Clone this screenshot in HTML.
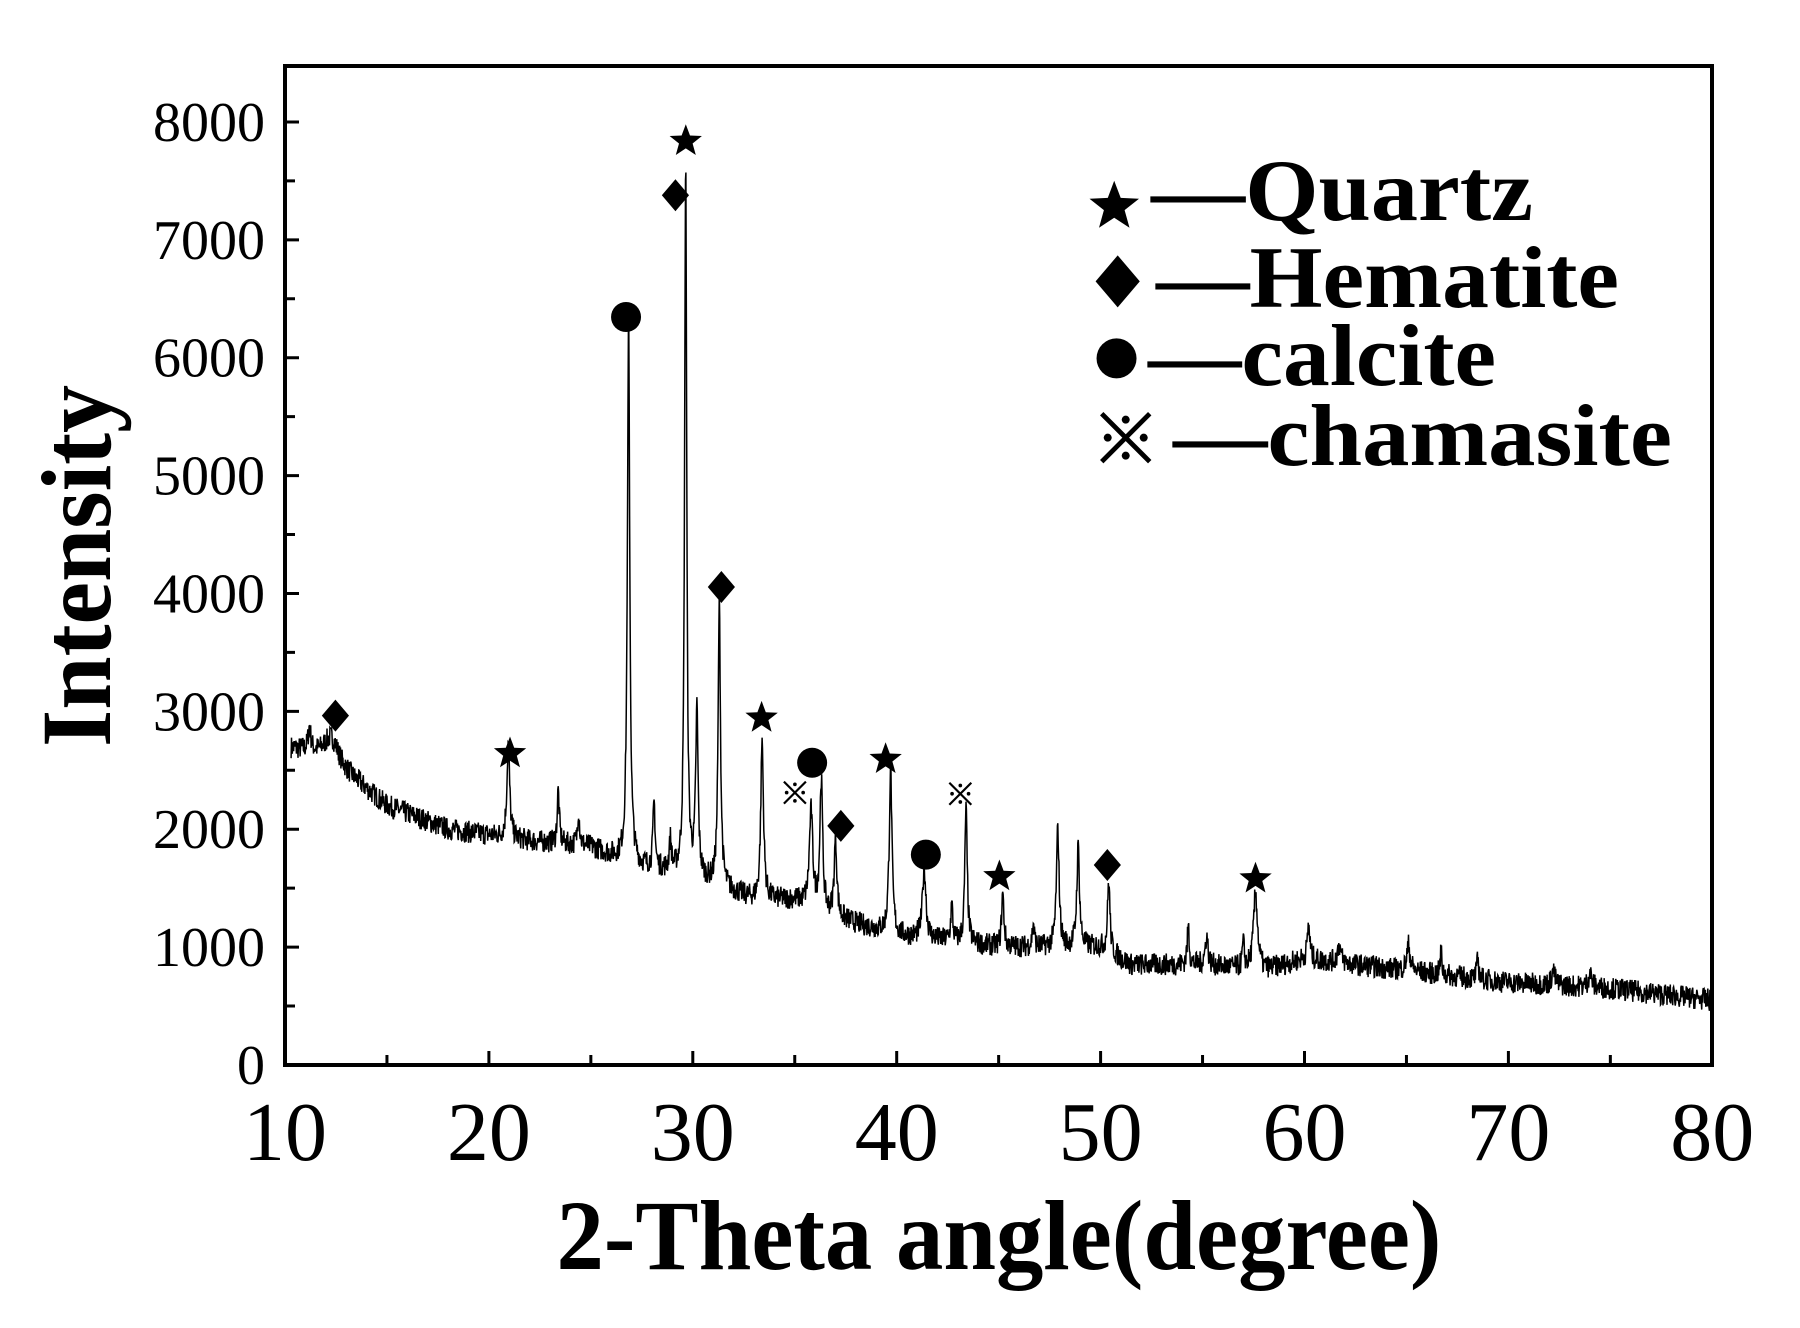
<!DOCTYPE html>
<html><head><meta charset="utf-8"><style>
html,body{margin:0;padding:0;background:#fff;}
svg{display:block;}
</style></head><body>
<svg id="s" width="1800" height="1328" xmlns="http://www.w3.org/2000/svg" font-family="'Liberation Serif',serif">
<rect x="0" y="0" width="1800" height="1328" fill="#fff"/>
<g id="data"></g>
<rect x="285" y="66" width="1427" height="999" fill="none" stroke="#000" stroke-width="4"/>
<g id="ticks" stroke="#000" stroke-width="3"></g>
<g id="labels" font-size="56" text-anchor="end"></g>
<g id="xl" font-size="84" text-anchor="middle"></g>
<text x="999" y="1269" font-size="100" font-weight="bold" text-anchor="middle" textLength="885" lengthAdjust="spacingAndGlyphs">2-Theta angle(degree)</text>
<text transform="translate(110,566) rotate(-90)" font-size="100" font-weight="bold" text-anchor="middle" textLength="362" lengthAdjust="spacingAndGlyphs">Intensity</text>
<g id="mk"></g>
<g font-size="88" font-weight="bold">
<text x="1151" y="220" textLength="382" lengthAdjust="spacingAndGlyphs">—Quartz</text>
<text x="1156" y="307" textLength="463" lengthAdjust="spacingAndGlyphs">—Hematite</text>
<text x="1148" y="385" textLength="348" lengthAdjust="spacingAndGlyphs">—calcite</text>
<text x="1173" y="465" textLength="499" lengthAdjust="spacingAndGlyphs">—chamasite</text>
</g>
</svg>
<script>
var NS="http://www.w3.org/2000/svg",S=1.1487;
function X(t){return 285+(t-10)*20.39;}
function Y(v){return 1065-v*0.11788;}
function el(p,n,a,txt){var e=document.createElementNS(NS,n);for(var k in a)e.setAttribute(k,a[k]);if(txt)e.textContent=txt;document.getElementById(p).appendChild(e);return e;}
var d="";
for(var t=10;t<=80;t+=5){var x=X(t),l=(t%10==0)?14:10;d+="M"+x+" 1065v-"+l;}
for(var v=0;v<=8000;v+=500){var y=Y(v),l=(v%1000==0)?14:10;d+="M285 "+y+"h"+l;}
el("ticks","path",{d:d,fill:"none"});
for(var v=0;v<=8000;v+=1000)el("labels","text",{x:265,y:Y(v)+19},String(v));
for(var t=10;t<=80;t+=10)el("xl","text",{x:X(t),y:1160},String(t));
var seed=7;function rnd(){seed=(seed*16807)%2147483647;return seed/2147483647;}
var base=[[10,2700],[12,2620],[13.2,2450],[15,2200],[18,2000],[22,1900],[25,1850],[27,1700],[30,1600],[33,1400],[35,1400],[37,1250],[40,1100],[45,1000],[50,1000],[51.5,850],[55,850],[58,800],[60,900],[65,800],[70,700],[75,650],[80,550]];
function B(t){for(var i=0;i<base.length-1;i++)if(t<=base[i+1][0]){var a=base[i],b=base[i+1];return a[1]+(b[1]-a[1])*(t-a[0])/(b[0]-a[0]);}return 550;}
var pk=[[11.2,200,0.08],[12.3,200,0.4],[20.95,800,0.08],[23.4,450,0.06],[24.4,300,0.06],[26.85,4550,0.07],[28.1,550,0.06],[28.9,250,0.06],[29.65,6100,0.06],[30.2,1400,0.07],[31.3,2400,0.07],[33.4,1350,0.08],[35.8,800,0.1],[36.3,1100,0.08],[37.0,650,0.08],[39.7,1400,0.08],[41.35,600,0.1],[42.7,300,0.06],[43.4,1150,0.07],[45.2,450,0.07],[46.7,200,0.06],[47.9,1000,0.08],[48.9,850,0.08],[50.4,600,0.07],[54.3,330,0.06],[55.2,250,0.08],[57.0,200,0.06],[57.6,650,0.12],[60.2,300,0.07],[61.7,150,0.1],[65.1,220,0.1],[66.7,200,0.05],[68.5,160,0.06],[72.2,120,0.1],[74,120,0.1]];
var p="";
for(var t=10.3;t<=80;t+=0.02){var v=B(t)+(rnd()-0.5)*190;for(var i=0;i<pk.length;i++){var q=pk[i],z=(t-q[0])/q[2];v+=q[1]/(1+z*z);}
p+=(p?"L":"M")+X(t).toFixed(1)+" "+Y(v).toFixed(1);}
el("data","path",{d:p,fill:"none",stroke:"#000","stroke-width":"1.5"});
function star(cx,cy,r){var s="";for(var i=0;i<10;i++){var a=-Math.PI/2+i*Math.PI/5,rr=i%2?r*0.42:r;s+=(i?"L":"M")+(cx+rr*Math.cos(a)).toFixed(1)+" "+(cy+rr*Math.sin(a)).toFixed(1);}el("mk","path",{d:s+"Z"});}
function dia(cx,cy,r){el("mk","path",{d:"M"+cx+" "+(cy-r)+"L"+(cx+r*0.85)+" "+cy+"L"+cx+" "+(cy+r)+"L"+(cx-r*0.85)+" "+cy+"Z"});}
function dot(cx,cy,r){el("mk","circle",{cx:cx,cy:cy,r:r});}
function kome(cx,cy,r){el("mk","path",{d:"M"+(cx-r)+" "+(cy-r)+"L"+(cx+r)+" "+(cy+r)+"M"+(cx+r)+" "+(cy-r)+"L"+(cx-r)+" "+(cy+r),stroke:"#000","stroke-width":r/5,fill:"none"});
[[-1,0],[1,0],[0,-1],[0,1]].forEach(function(o){el("mk","circle",{cx:cx+o[0]*r*0.75,cy:cy+o[1]*r*0.75,r:r/6});});}
var M=[["d",292,623],["s",444,656],["c",545,276],["d",588,170],["s",597,123],["d",628,511],["s",663,625],["c",707,664],["k",692,690],["d",732,719],["s",771,661],["c",806,744],["k",836,691],["s",870,763],["d",964,753],["s",1093,765]];
M.forEach(function(m){var x=m[1]*S,y=m[2]*S;if(m[0]=="s")star(x,y,17);if(m[0]=="d")dia(x,y,16);if(m[0]=="c")dot(x,y,15);if(m[0]=="k")kome(x,y,11);});
star(970*S,180*S,26);dia(973*S,245*S,26);dot(972*S,312*S,20);kome(980*S,381*S,24);
</script>
</body></html>
